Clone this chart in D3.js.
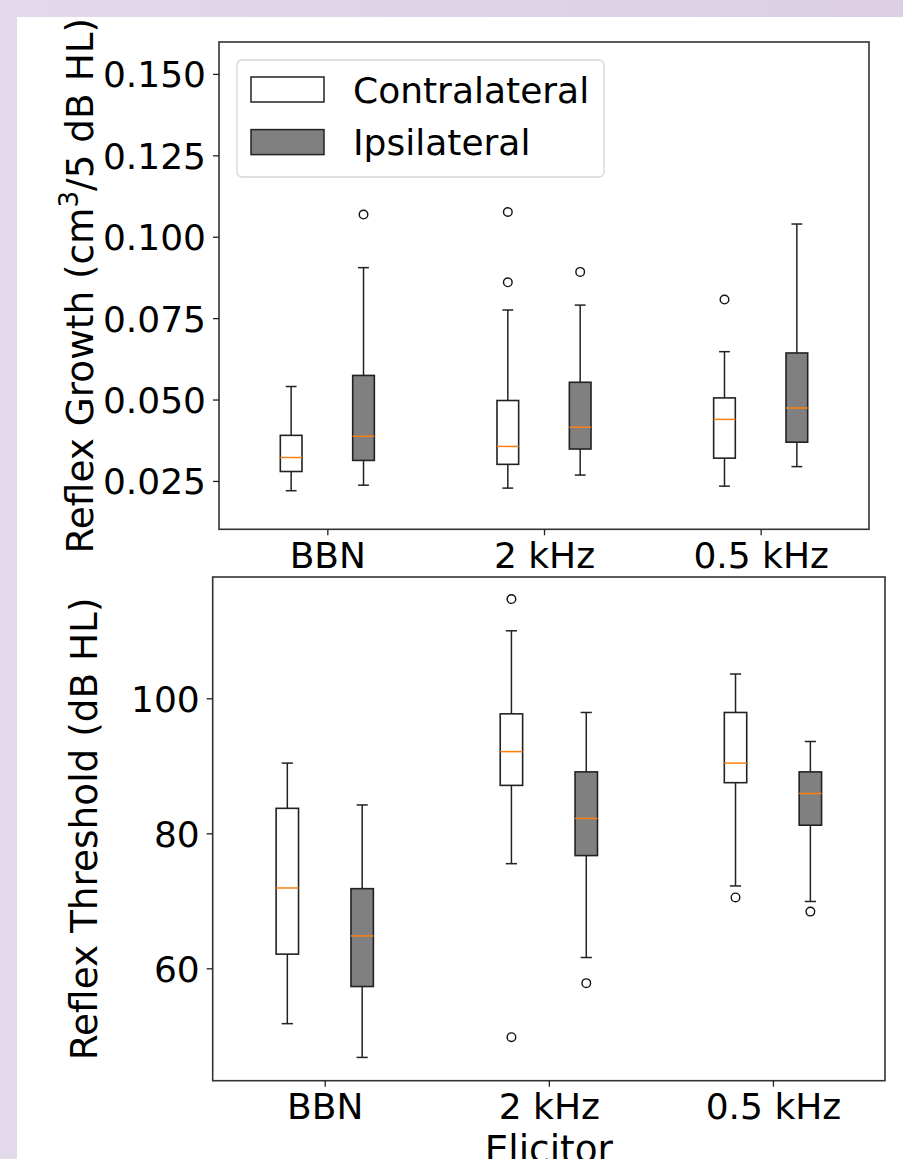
<!DOCTYPE html>
<html><head><meta charset="utf-8">
<script src="https://cdn.jsdelivr.net/npm/d3@7/dist/d3.min.js"></script>
<style>
html,body{margin:0;padding:0;}
body{width:903px;height:1159px;overflow:hidden;background:linear-gradient(90deg,#e2d9ea,#dccfe4);}
svg{display:block;}
</style></head>
<body>
<svg id="chart" width="903" height="1159"></svg>
<script>
// ---------- DATA ----------
const categories = ["BBN", "2 kHz", "0.5 kHz"];
const seriesNames = ["Contralateral", "Ipsilateral"];

// [whiskerLow, q1, median, q3, whiskerHigh]
const contraGrowth = [
  [0.0220, 0.0279, 0.0322, 0.0390, 0.0540],
  [0.0228, 0.0301, 0.0356, 0.0497, 0.0775],
  [0.0234, 0.0320, 0.0439, 0.0505, 0.0647]
];
const contraGrowthOutliers = [[], [0.0860, 0.1076], [0.0807]];
const ipsiGrowth = [
  [0.0237, 0.0313, 0.0387, 0.0574, 0.0905],
  [0.0268, 0.0348, 0.0415, 0.0553, 0.0790],
  [0.0294, 0.0369, 0.0474, 0.0643, 0.1039]
];
const ipsiGrowthOutliers = [[0.1068], [0.0892], []];

const contraThreshold = [
  [51.8, 62.1, 71.9, 83.7, 90.4],
  [75.5, 87.1, 92.1, 97.7, 110.0],
  [72.2, 87.5, 90.4, 97.9, 103.6]
];
const contraThresholdOutliers = [[], [114.7, 49.8], [70.5]];
const ipsiThreshold = [
  [46.8, 57.3, 64.8, 71.8, 84.2],
  [61.6, 76.7, 82.2, 89.1, 97.9],
  [69.9, 81.2, 85.9, 89.1, 93.6]
];
const ipsiThresholdOutliers = [[], [57.8], [68.4]];

const growthTicks = [0.025, 0.050, 0.075, 0.100, 0.125, 0.150];
const thresholdTicks = [60, 80, 100];

// ---------- DRAW ----------
const svg = d3.select("#chart");
const FONT = "DejaVu Sans, sans-serif";
const FS = 36;
const LFS = 37.4;

svg.append("rect").attr("x", 17).attr("y", 17).attr("width", 886).attr("height", 1142).attr("fill", "#ffffff");

function panel(cfg) {
  const g = svg.append("g");
  const x = d3.scaleLinear().domain([0.5, 3.5]).range([cfg.left, cfg.right]);
  const y = d3.scaleLinear().domain(cfg.yDomain).range([cfg.bottom, cfg.top]);
  const off = 0.167, bw = 0.1;
  const series = [
    {stats: cfg.contra, out: cfg.contraOut, fill: "#ffffff", d: -off},
    {stats: cfg.ipsi, out: cfg.ipsiOut, fill: "#808080", d: off}
  ];
  series.forEach(s => {
    s.stats.forEach((st, i) => {
      const c = x(i + 1 + s.d);
      const half = (x(bw) - x(0)) / 2;
      const capHalf = half / 2;
      const [lo, q1, med, q3, hi] = st;
      const stroke = "#222";
      g.append("line").attr("x1", c).attr("x2", c).attr("y1", y(q3)).attr("y2", y(hi)).attr("stroke", stroke).attr("stroke-width", 1.5);
      g.append("line").attr("x1", c).attr("x2", c).attr("y1", y(q1)).attr("y2", y(lo)).attr("stroke", stroke).attr("stroke-width", 1.5);
      [lo, hi].forEach(v => g.append("line").attr("x1", c - capHalf).attr("x2", c + capHalf).attr("y1", y(v)).attr("y2", y(v)).attr("stroke", stroke).attr("stroke-width", 1.5));
      g.append("rect").attr("x", c - half).attr("y", y(q3)).attr("width", 2 * half).attr("height", y(q1) - y(q3))
        .attr("fill", s.fill).attr("stroke", stroke).attr("stroke-width", 1.6);
      g.append("line").attr("x1", c - half).attr("x2", c + half).attr("y1", y(med)).attr("y2", y(med)).attr("stroke", "#ff7f0e").attr("stroke-width", 1.5);
      s.out[i].forEach(v => g.append("circle").attr("cx", c).attr("cy", y(v)).attr("r", 4.3).attr("fill", "none").attr("stroke", "#111").attr("stroke-width", 1.4));
    });
  });
  g.append("rect").attr("x", cfg.left).attr("y", cfg.top).attr("width", cfg.right - cfg.left).attr("height", cfg.bottom - cfg.top)
    .attr("fill", "none").attr("stroke", "#333").attr("stroke-width", 1.6);
  const xAxis = d3.axisBottom(x).tickValues([1, 2, 3]).tickFormat((d, i) => categories[i]).tickSize(6).tickPadding(7);
  const gx = g.append("g").attr("transform", `translate(0,${cfg.bottom})`).call(xAxis);
  const yAxis = d3.axisLeft(y).tickValues(cfg.ticks).tickFormat(cfg.fmt).tickSize(6).tickPadding(7);
  const gy = g.append("g").attr("transform", `translate(${cfg.left},0)`).call(yAxis);
  [gx, gy].forEach(a => {
    a.select(".domain").remove();
    a.selectAll(".tick line").attr("stroke", "#222").attr("stroke-width", 1.3);
    a.selectAll("text").attr("font-family", FONT).attr("font-size", FS).attr("fill", "#000");
  });
  gx.selectAll("text").attr("dy", null).attr("y", cfg.xLabelY - cfg.bottom);
  gy.selectAll("text").attr("dy", "0.36em");
  return {x, y, g};
}

const topPanel = panel({
  left: 219, right: 869, top: 42, bottom: 529.3,
  yDomain: [0.01015, 0.1598], ticks: growthTicks, fmt: d3.format(".3f"),
  contra: contraGrowth, contraOut: contraGrowthOutliers,
  ipsi: ipsiGrowth, ipsiOut: ipsiGrowthOutliers, xLabelY: 568
});
const bottomPanel = panel({
  left: 212.7, right: 885, top: 577, bottom: 1080.7,
  yDomain: [43.35, 117.97], ticks: thresholdTicks, fmt: d3.format("d"),
  contra: contraThreshold, contraOut: contraThresholdOutliers,
  ipsi: ipsiThreshold, ipsiOut: ipsiThresholdOutliers, xLabelY: 1119.5
});

const yl1 = svg.append("text").attr("transform", `translate(93,${(42 + 529.3) / 2}) rotate(-90)`)
  .attr("text-anchor", "middle").attr("font-family", FONT).attr("font-size", LFS).attr("fill", "#000");
yl1.append("tspan").text("Reflex Growth (cm");
yl1.append("tspan").attr("font-size", 26).attr("dy", -15).text("3");
yl1.append("tspan").attr("dy", 15).text("/5 dB HL)");

svg.append("text").attr("transform", `translate(97,${(577 + 1080.7) / 2}) rotate(-90)`)
  .attr("text-anchor", "middle").attr("font-family", FONT).attr("font-size", LFS).attr("fill", "#000")
  .text("Reflex Threshold (dB HL)");

svg.append("text").attr("x", (212.7 + 885) / 2).attr("y", 1162).attr("text-anchor", "middle")
  .attr("font-family", FONT).attr("font-size", LFS).attr("fill", "#000").text("Elicitor");

const lg = svg.append("g");
lg.append("rect").attr("x", 237).attr("y", 60).attr("width", 367).attr("height", 117).attr("rx", 5)
  .attr("fill", "#ffffff").attr("fill-opacity", 0.8).attr("stroke", "#d6d6d6").attr("stroke-width", 1.3);
const legendFills = ["#ffffff", "#808080"];
seriesNames.forEach((n, i) => {
  const yy = 77 + i * 52.6;
  lg.append("rect").attr("x", 251).attr("y", yy).attr("width", 73).attr("height", 25)
    .attr("fill", legendFills[i]).attr("stroke", "#222").attr("stroke-width", 1.5);
  lg.append("text").attr("x", 353).attr("y", 102.5 + i * 52.6).attr("font-family", FONT).attr("font-size", FS).attr("fill", "#000").text(n);
});
</script>
</body></html>
